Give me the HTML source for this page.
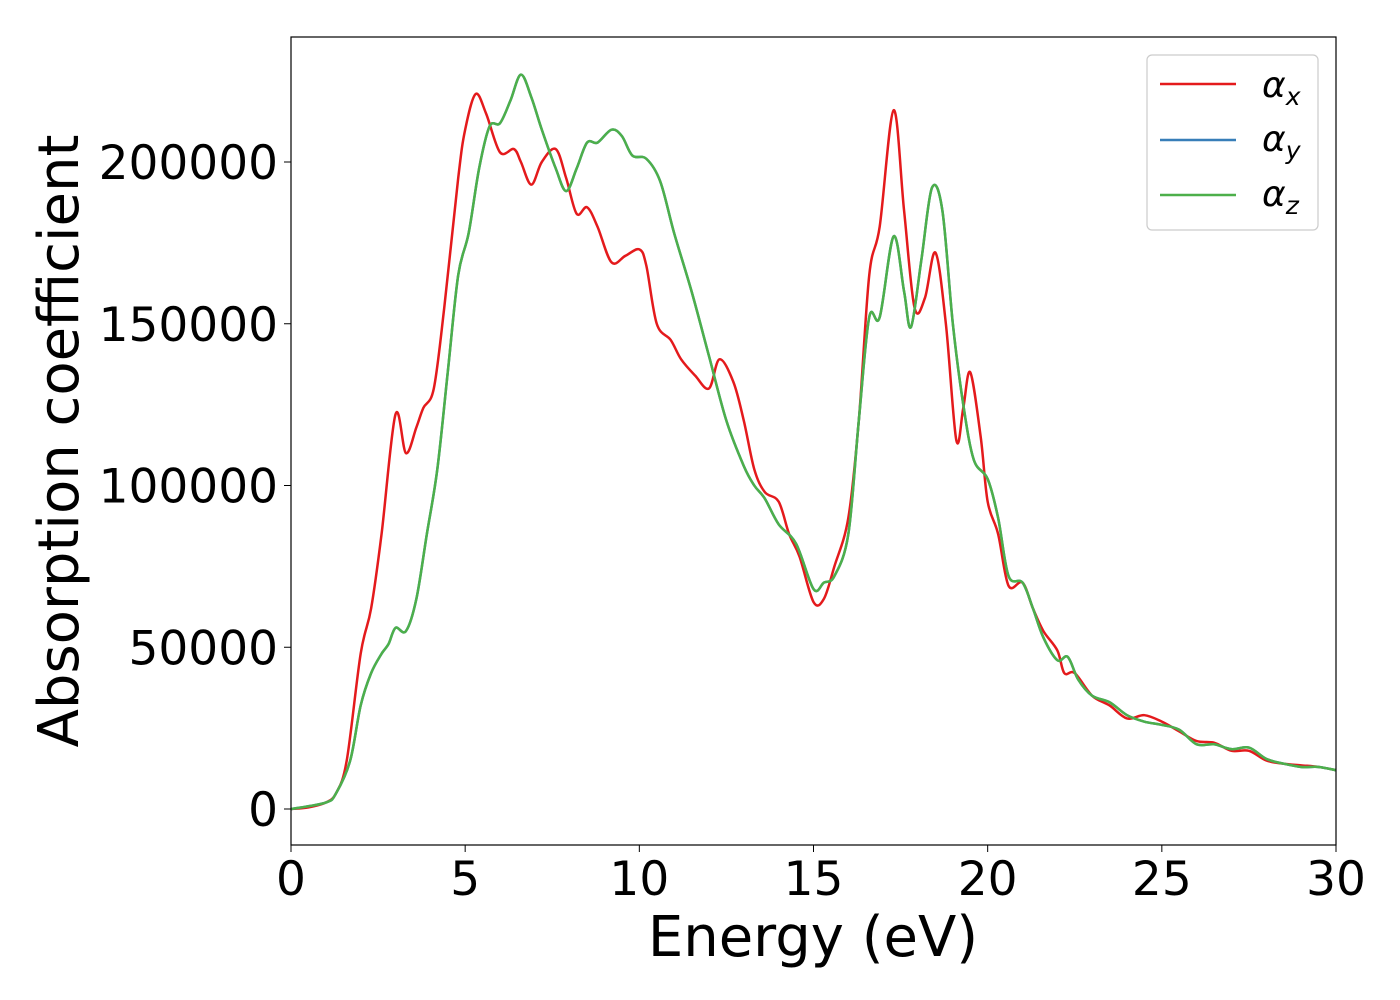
<!DOCTYPE html>
<html><head><meta charset="utf-8"><style>
body{margin:0;background:#fff;}
svg{display:block;font-family:"DejaVu Sans","Liberation Sans",sans-serif;}
</style></head><body>
<svg id="chart" width="1400" height="1000">
<rect x="0" y="0" width="1400" height="1000" fill="#fff"/>
<g id="ticks"></g>
<g id="series"></g>
<rect x="291" y="37" width="1045" height="808" fill="none" stroke="#000" stroke-width="1.2"/>
<text x="813" y="956" font-size="56" text-anchor="middle">Energy (eV)</text>
<text transform="translate(78,441) rotate(-90)" font-size="56" text-anchor="middle">Absorption coefficient</text>
<g>
<rect x="1147" y="55" width="171" height="175" rx="5" fill="#fff" stroke="#ccc" stroke-width="1.2"/>
<g><line x1="1160" y1="84" x2="1236" y2="84" stroke="#e41a1c" stroke-width="2.5"/><text x="1262" y="97" font-size="36" font-style="italic">α<tspan font-size="25" dy="8">x</tspan></text></g>
<g><line x1="1160" y1="140" x2="1236" y2="140" stroke="#377eb8" stroke-width="2.5"/><text x="1262" y="151" font-size="36" font-style="italic">α<tspan font-size="25" dy="8">y</tspan></text></g>
<g><line x1="1160" y1="195" x2="1236" y2="195" stroke="#4daf4a" stroke-width="2.5"/><text x="1262" y="206" font-size="36" font-style="italic">α<tspan font-size="25" dy="8">z</tspan></text></g>
</g>
</svg>
<script>
const xTicks=[0,5,10,15,20,25,30];
const yTicks=[0,50000,100000,150000,200000];
const energyX=[0,0.5,1,1.3,1.6,2,2.3,2.6,3,3.3,3.6,3.8,4.1,4.4,4.8,5,5.3,5.6,6,6.4,6.6,6.9,7.2,7.6,7.9,8.2,8.5,8.8,9.2,9.6,10,10.2,10.5,10.9,11.2,11.6,12,12.3,12.7,13,13.3,13.6,14,14.3,14.6,15,15.3,15.6,16,16.3,16.6,16.9,17.3,17.6,17.9,18.2,18.5,18.8,19.1,19.3,19.5,19.8,20,20.3,20.6,21,21.3,21.6,22,22.2,22.5,23,23.5,24,24.5,25,25.5,26,26.5,27,27.5,28,28.5,29,29.5,30];
const alphaX=[0,500,2000,5000,15000,48000,62000,85000,122000,110000,118000,124000,130000,155000,195000,210000,221000,215000,203000,204000,200000,193000,200000,204000,195000,184000,186000,180000,169000,171000,173000,168000,150000,145000,139000,134000,130000,139000,132000,120000,105000,98000,95000,85000,78000,64000,65000,75000,90000,120000,165000,180000,216000,185000,155000,158000,172000,150000,114000,124000,135000,115000,95000,85000,69000,70000,62000,55000,49000,42000,42000,35000,32000,28000,29000,27000,24000,21000,20500,18000,18000,15000,14000,13500,13000,12000];
const energyZ=[0,1,1.3,1.7,2,2.3,2.6,2.8,3,3.3,3.6,3.9,4.2,4.5,4.8,5.1,5.4,5.7,6,6.3,6.6,6.9,7.2,7.6,7.9,8.2,8.5,8.8,9.2,9.5,9.8,10.2,10.6,11,11.5,12,12.5,13,13.3,13.6,14,14.5,15,15.3,15.6,16,16.3,16.6,16.9,17.3,17.6,17.8,18.1,18.4,18.7,19,19.3,19.6,20,20.3,20.6,21,21.3,21.6,22,22.3,22.6,23,23.5,24,24.5,25,25.5,26,26.5,27,27.5,28,28.5,29,29.5,30];
const alphaZ=[0,2000,5000,15000,32000,42000,48000,51000,56000,55000,65000,85000,105000,135000,165000,178000,198000,211000,212000,219000,227000,220000,210000,198000,191000,198000,206000,206000,210000,208000,202000,201000,194000,178000,160000,140000,120000,106000,100000,96000,88000,82000,68000,70000,72000,85000,120000,152000,152000,177000,160000,149000,170000,192000,185000,150000,125000,108000,102000,90000,72000,70000,62000,53000,46000,47000,40000,35000,33000,29000,27000,26000,24500,20000,20000,18500,19000,15500,14000,13000,13000,12000];
const alphaY=alphaZ.slice();
const NS="http://www.w3.org/2000/svg";
const sx=v=>291+v*(1045/30);
const sy=v=>809-v*0.003235;
const tg=document.getElementById('ticks');
for(const t of xTicks){
  const l=document.createElementNS(NS,'line');
  l.setAttribute('x1',sx(t));l.setAttribute('x2',sx(t));l.setAttribute('y1',845);l.setAttribute('y2',852);l.setAttribute('stroke','#000');
  
  
  tg.appendChild(l);
  const tx=document.createElementNS(NS,'text');
  tx.setAttribute('x',sx(t));tx.setAttribute('y',895);tx.setAttribute('font-size','47');tx.setAttribute('text-anchor','middle');
  tx.textContent=t;
  
  
  tg.appendChild(tx);
}
for(const t of yTicks){
  const l=document.createElementNS(NS,'line');
  l.setAttribute('x1',284);l.setAttribute('x2',291);l.setAttribute('y1',sy(t));l.setAttribute('y2',sy(t));l.setAttribute('stroke','#000');
  
  
  tg.appendChild(l);
  const tx=document.createElementNS(NS,'text');
  tx.setAttribute('x',278);tx.setAttribute('y',sy(t)+17);tx.setAttribute('font-size','47');tx.setAttribute('text-anchor','end');
  tx.textContent=t;
  
  
  tg.appendChild(tx);
}
function pathFor(xs,ys){
  const p=xs.map((x,i)=>[sx(x),sy(ys[i])]);
  let d='M'+p[0][0]+','+p[0][1];
  for(let i=0;i<p.length-1;i++){
    const p0=p[Math.max(0,i-1)],p1=p[i],p2=p[i+1],p3=p[Math.min(p.length-1,i+2)];
    const c1=[p1[0]+(p2[0]-p0[0])/6,p1[1]+(p2[1]-p0[1])/6];
    const c2=[p2[0]-(p3[0]-p1[0])/6,p2[1]-(p3[1]-p1[1])/6];
    d+=`C${c1[0]},${c1[1]} ${c2[0]},${c2[1]} ${p2[0]},${p2[1]}`;
  }
  return d;
}
const sg=document.getElementById('series');
const defs=[[energyX,alphaX,'#e41a1c','series-alpha-x'],[energyZ,alphaY,'#377eb8','series-alpha-y'],[energyZ,alphaZ,'#4daf4a','series-alpha-z']];
for(const [xs,ys,c,n] of defs){
  const pa=document.createElementNS(NS,'path');
  pa.setAttribute('d',pathFor(xs,ys));pa.setAttribute('fill','none');pa.setAttribute('stroke',c);pa.setAttribute('stroke-width','2.5');
  
  
  sg.appendChild(pa);
}
</script>
</body></html>
